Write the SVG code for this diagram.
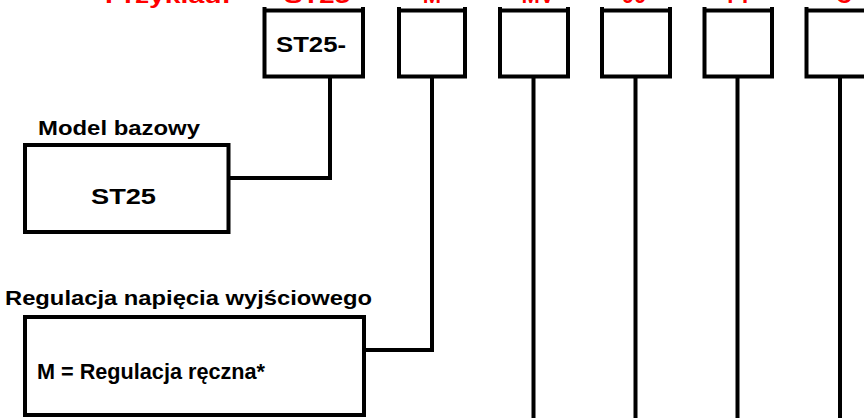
<svg xmlns="http://www.w3.org/2000/svg" width="864" height="418" viewBox="0 0 864 418">
<style>
.box{fill:#fff;stroke:#000;stroke-width:4}
.cbox{fill:none;stroke:#000;stroke-width:4}
.ln{fill:none;stroke:#000;stroke-width:4}
.t{font-family:"Liberation Sans",Arial,sans-serif;font-weight:bold;fill:#000}
.r{font-family:"Liberation Sans",Arial,sans-serif;font-weight:bold;fill:#ff0000;font-size:22px}
</style>
<rect width="864" height="418" fill="#fff"/>
<g id="example-labels">
<text class="r" x="105" y="3" textLength="126" lengthAdjust="spacingAndGlyphs">Przykład:</text>
<text class="r" x="284" y="3" textLength="66" lengthAdjust="spacingAndGlyphs">ST25</text>
<text class="r" x="432" y="3" text-anchor="middle">M</text>
<text class="r" x="538" y="3" text-anchor="middle">MV</text>
<text class="r" x="634" y="3" text-anchor="middle">00</text>
<text class="r" x="742" y="3" text-anchor="middle">PP</text>
<text class="r" x="836" y="3">C</text>
</g>
<g id="connectors">
<path class="ln" d="M330,77 V178 H228"/>
<path class="ln" d="M432,77 V350 H364"/>
<path class="ln" d="M533.5,77 V418"/>
<path class="ln" d="M635.5,77 V418"/>
<path class="ln" d="M737.5,77 V418"/>
<path class="ln" d="M840,77 V418"/>
</g>
<g id="code-st25">
<path class="cbox" d="M264.5,7 V76.5 H363 V7 M264.5,10.5 H363"/>
<text class="t" x="276" y="52" font-size="22.5" textLength="70" lengthAdjust="spacingAndGlyphs">ST25-</text>
</g>
<g id="code-2"><path class="cbox" d="M399,7 V76.5 H465 V7 M399,10.5 H465"/></g>
<g id="code-3"><path class="cbox" d="M500,7 V76.5 H568 V7 M500,10.5 H568"/></g>
<g id="code-4"><path class="cbox" d="M602,7 V76.5 H670 V7 M602,10.5 H670"/></g>
<g id="code-5"><path class="cbox" d="M704.5,7 V76.5 H772 V7 M704.5,10.5 H772"/></g>
<g id="code-6"><path class="cbox" d="M806.5,7 V76.5 H874 M806.5,10.5 H874"/></g>
<g id="model-bazowy">
<text class="t" x="38" y="135" font-size="21" textLength="162" lengthAdjust="spacingAndGlyphs">Model bazowy</text>
<rect class="box" x="25" y="145" width="203.5" height="87"/>
<text class="t" x="91" y="204" font-size="22" textLength="65" lengthAdjust="spacingAndGlyphs">ST25</text>
</g>
<g id="regulacja">
<text class="t" x="5" y="305" font-size="21" textLength="367" lengthAdjust="spacingAndGlyphs">Regulacja napięcia wyjściowego</text>
<rect class="box" x="25" y="317" width="339" height="98"/>
<text class="t" x="37" y="379" font-size="21.5" textLength="228" lengthAdjust="spacingAndGlyphs">M = Regulacja ręczna*</text>
</g>
</svg>
